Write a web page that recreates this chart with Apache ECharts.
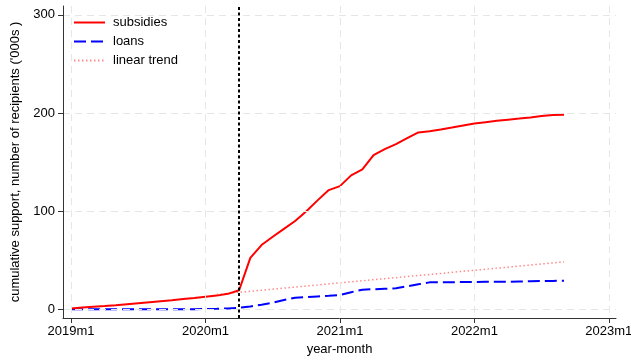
<!DOCTYPE html>
<html>
<head>
<meta charset="utf-8">
<script src="https://cdn.jsdelivr.net/npm/echarts@6/dist/echarts.min.js"></script>
<style>
html,body{margin:0;padding:0;background:#fff;}
#chart{width:631px;height:360px;}
</style>
</head>
<body>
<div id="chart"></div>
<script>
// month labels (index 0 = 2019m1)
const monthLabels = ["2019m1","2019m2","2019m3","2019m4","2019m5","2019m6","2019m7","2019m8","2019m9","2019m10","2019m11","2019m12",
  "2020m1","2020m2","2020m3","2020m4","2020m5","2020m6","2020m7","2020m8","2020m9","2020m10","2020m11","2020m12",
  "2021m1","2021m2","2021m3","2021m4","2021m5","2021m6","2021m7","2021m8","2021m9","2021m10","2021m11","2021m12",
  "2022m1","2022m2","2022m3","2022m4","2022m5","2022m6","2022m7","2022m8","2022m9"];
const subsidies = [1.0,1.8,2.6,3.4,4.3,5.3,6.3,7.3,8.3,9.3,10.5,11.6,12.8,14.0,15.8,19.5,52.5,65.5,74,82,90,100,111,121.5,125.5,136.5,142.5,157,163.2,168.3,174.4,180.2,181.5,183.2,185.2,187.3,189.4,190.7,192,193.2,194.3,195.5,197,198,198.2];
const loans = [0,0,0,0,0,0,0.1,0.1,0.1,0.1,0.2,0.2,0.3,0.5,0.9,1.6,3.0,4.8,6.7,9.5,11.8,12.5,13.2,13.8,14.6,17.5,20.0,20.5,21.0,21.4,23.5,25.5,27.5,27.6,27.7,27.8,27.9,28.0,28.1,28.2,28.4,28.6,28.8,29.0,29.1];
const linearTrend = [null,null,null,null,null,null,null,null,null,null,null,null,null,15.2,16.3,17.4,18.4,19.5,20.6,21.6,22.7,23.8,24.8,25.9,27.0,28.1,29.1,30.2,31.3,32.3,33.4,34.5,35.5,36.6,37.7,38.8,39.8,40.9,42.0,43.0,44.1,45.2,46.2,47.3,48.4];
const xTickValues = [0,12,24,36,48];
const xTickLabels = ["2019m1","2020m1","2021m1","2022m1","2023m1"];
const yTickValues = [0,100,200,300];
const eventMonth = 15; // 2020m4

const toXY = arr => arr.map((v,i)=>[i,v]).filter(p=>p[1]!==null);
const FONT = "Liberation Sans, Arial, sans-serif";
const gridStyle = {color:'#e6e6e6', type:[7,5], width:1};

const chart = echarts.init(document.getElementById('chart'), null, {renderer:'canvas'});
chart.setOption({
  animation:false,
  backgroundColor:'#fff',
  grid:{left:63, right:15, top:6, bottom:42, containLabel:false, outerBoundsMode:'none'},
  legend:{
    orient:'vertical', left:66, top:10,
    padding:[6,10,3,7],
    backgroundColor:'#fff',
    itemWidth:31, itemHeight:13, itemGap:6,
    itemStyle:{opacity:0},
    textStyle:{fontFamily:FONT, fontSize:13, color:'#000', padding:[0,0,0,3]},
    data:['subsidies','loans','linear trend']
  },
  xAxis:{
    type:'value', min:-0.72, max:48.64, z:6,
    name:'year-month', nameLocation:'middle', nameGap:24,
    nameTextStyle:{fontFamily:FONT, fontSize:13, color:'#000'},
    axisLine:{show:true, onZero:false, lineStyle:{color:'#333', width:1}},
    axisTick:{show:true, length:5, customValues:xTickValues, lineStyle:{color:'#333'}},
    axisLabel:{customValues:xTickValues, fontFamily:FONT, fontSize:13, color:'#000', margin:7,
      formatter:v=>{const k=xTickValues.indexOf(Math.round(v)); return k>=0?xTickLabels[k]:'';}},
    splitLine:{show:true, customValues:xTickValues, lineStyle:gridStyle}
  },
  yAxis:{
    type:'value', min:-8.8, max:309, z:6,
    name:"cumulative support, number of recipients ('000s )", nameLocation:'middle', nameGap:38,
    nameTextStyle:{fontFamily:FONT, fontSize:13, color:'#000'},
    axisLine:{show:true, onZero:false, lineStyle:{color:'#333', width:1}},
    axisTick:{show:true, length:5, customValues:yTickValues, lineStyle:{color:'#333'}},
    axisLabel:{customValues:yTickValues, fontFamily:FONT, fontSize:13, color:'#000', margin:8},
    splitLine:{show:true, customValues:yTickValues, lineStyle:gridStyle}
  },
  series:[
    {name:'subsidies', type:'line', data:toXY(subsidies), symbol:'none', z:4,
      lineStyle:{color:'#ff0000', width:2}, itemStyle:{color:'#ff0000'},
      markLine:{silent:true, symbol:'none', label:{show:false},
        lineStyle:{color:'#000', type:[3,2.5], width:2},
        data:[{xAxis:eventMonth}]}},
    {name:'loans', type:'line', data:toXY(loans), symbol:'none', z:3,
      lineStyle:{color:'#0000ff', width:2, type:[12,5]}, itemStyle:{color:'#0000ff'}},
    {name:'linear trend', type:'line', data:toXY(linearTrend), symbol:'none', z:2,
      lineStyle:{color:'#ff8a8a', width:1.5, type:[1.5,2.5]}, itemStyle:{color:'#ff8a8a'}}
  ]
});
</script>
</body>
</html>
